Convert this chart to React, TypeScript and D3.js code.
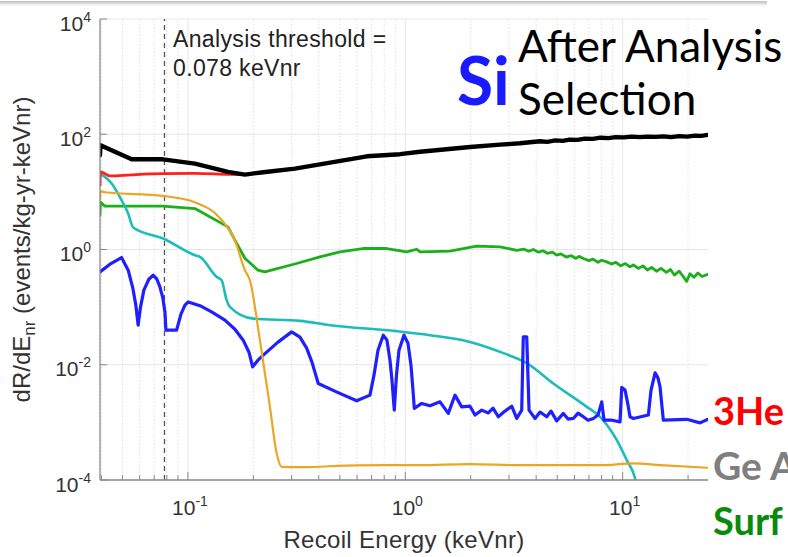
import React from 'react';
import * as d3 from 'd3';

const W = 788;
const H = 557;
const xDomain: [number, number] = [0.0394, 24.7];
const yDomain: [number, number] = [1e-4, 1e4];
const threshold = 0.078;
const yTickExps = [-4, -2, 0, 2, 4];
const xTickExps = [-1, 0, 1];

// total (black)
const totalData: [number, number][] = [
  [0.0394, 43.2], [0.0396, 64.4], [0.0551, 36.8], [0.0767, 36.8], [0.1077, 31.0], [0.1528, 22.2],
  [0.1829, 20.0], [0.2221, 21.9], [0.3106, 25.4], [0.666, 41.5], [0.946, 45.0], [1.17, 49.7],
  [1.985, 60.1], [2.73, 65.8], [3.37, 69.8], [4.17, 75.6], [4.5, 74], [4.9, 78], [5.3, 77], [5.7, 81],
  [6.2, 80], [6.7, 84], [7.3, 83], [7.9, 87], [8.6, 86], [9.3, 89], [10.1, 88], [11.0, 91], [12.0, 89],
  [13.0, 91], [14.2, 90], [15.4, 92], [16.7, 89], [18.2, 93], [19.8, 91], [21.5, 95], [23.0, 94], [24.7, 98],
];

// red
const redData: [number, number][] = [
  [0.0394, 13.0], [0.0396, 22.2], [0.0438, 18.9], [0.055, 19.8], [0.0767, 20.8], [0.1077, 21.0],
  [0.1528, 20.2], [0.1829, 20.0], [0.1928, 20.0],
];

// orange
const orangeData: [number, number][] = [
  [0.0394, 7.67], [0.0396, 10.3], [0.0415, 9.86], [0.0767, 8.51], [0.1077, 6.61], [0.1433, 3.22],
  [0.1645, 1.45], [0.1829, 0.437], [0.1928, 0.293], [0.2144, 0.0267], [0.2384, 1.86e-3],
  [0.2559, 2.93e-4], [0.270, 1.69e-4], [0.3276, 1.67e-4], [0.6, 1.8e-4], [1.17, 1.81e-4],
  [1.985, 1.89e-4], [3.37, 1.81e-4], [7.87, 1.81e-4], [11.2, 1.94e-4], [14.86, 1.81e-4], [24.7, 1.63e-4],
];

// green
const greenData: [number, number][] = [
  [0.0394, 3.94], [0.0396, 6.69], [0.0415, 5.64], [0.0767, 5.64], [0.1077, 5.14], [0.1528, 2.47],
  [0.1645, 1.45], [0.1829, 0.706], [0.210, 0.438], [0.226, 0.409], [0.316, 0.572], [0.405, 0.745],
  [0.501, 0.909], [0.638, 1.04], [0.821, 1.04], [1.015, 0.909], [1.128, 1.01], [1.17, 0.909],
  [1.606, 0.934], [2.13, 1.14], [2.73, 1.11], [3.26, 0.97], [3.5, 1.02], [3.7, 0.93], [3.88, 1.0],
  [4.1, 0.9], [4.3, 0.95], [4.5, 0.86], [4.75, 0.9], [4.97, 0.8], [5.2, 0.84], [5.5, 0.74], [5.8, 0.78],
  [6.1, 0.70], [6.3, 0.76], [6.6, 0.70], [7.0, 0.64], [7.3, 0.68], [7.7, 0.6], [8.0, 0.65], [8.45, 0.61],
  [8.9, 0.56], [9.3, 0.6], [9.8, 0.52], [10.3, 0.57], [10.8, 0.5], [11.2, 0.54], [11.8, 0.47],
  [12.4, 0.52], [13.0, 0.44], [13.6, 0.49], [14.3, 0.42], [15.0, 0.47], [15.9, 0.4], [16.6, 0.45],
  [17.3, 0.36], [18.2, 0.42], [19.0, 0.34], [19.7, 0.28], [20.4, 0.38], [21.3, 0.33], [22.2, 0.39],
  [23.2, 0.34], [24.7, 0.37],
];

// cyan
const cyanData: [number, number][] = [
  [0.0394, 20.8], [0.0446, 13.96], [0.0495, 7.16], [0.0531, 4.21], [0.0560, 2.41], [0.0770, 1.55],
  [0.1077, 0.796], [0.1136, 0.744], [0.1355, 0.335], [0.1429, 0.293], [0.1507, 0.132], [0.156, 0.101],
  [0.1997, 0.0631], [0.3276, 0.0577], [0.450, 0.0486], [0.912, 0.0383], [1.299, 0.0326],
  [1.985, 0.0249], [2.83, 0.0159], [3.62, 0.0107], [4.80, 0.00474], [6.84, 0.00186], [7.87, 0.00125],
  [9.40, 0.000492], [10.45, 0.000221], [11.4, 0.000107], [11.6, 0.00008],
];

// blue
const blueData: [number, number][] = [
  [0.0394, 0.409], [0.0438, 0.556], [0.0495, 0.726], [0.0531, 0.438], [0.0558, 0.213], [0.0576, 0.108],
  [0.0590, 0.0486], [0.0604, 0.0959], [0.0627, 0.197], [0.0661, 0.305], [0.0692, 0.358], [0.0720, 0.305],
  [0.0743, 0.225], [0.0767, 0.143], [0.0784, 0.0817], [0.0792, 0.0398], [0.0887, 0.0398], [0.0929, 0.0754],
  [0.0969, 0.108], [0.1003, 0.123], [0.1136, 0.106], [0.1285, 0.0827], [0.1480, 0.0594], [0.1645, 0.0414],
  [0.1796, 0.0267], [0.1909, 0.0165], [0.1985, 0.00919], [0.2100, 0.0120], [0.2221, 0.0147],
  [0.2596, 0.0247], [0.3000, 0.0372], [0.3276, 0.0301], [0.3517, 0.0194], [0.3721, 0.0111],
  [0.3977, 0.00474], [0.4849, 0.00335], [0.5974, 0.00237], [0.6880, 0.00297], [0.7178, 0.0066],
  [0.7489, 0.0179], [0.7920, 0.0326], [0.8236, 0.0267], [0.8503, 0.0120], [0.8685, 0.0054],
  [0.8901, 0.00163], [0.9110, 0.0066], [0.9354, 0.0179], [0.9863, 0.0326], [1.029, 0.0237],
  [1.062, 0.00984], [1.085, 0.00363], [1.100, 0.00175], [1.190, 0.00213], [1.299, 0.00194],
  [1.445, 0.00227], [1.577, 0.00143], [1.693, 0.00297], [1.818, 0.00186], [1.985, 0.00191],
  [2.093, 0.00134], [2.247, 0.00163], [2.410, 0.00146], [2.533, 0.00177], [2.679, 0.00125],
  [2.876, 0.00157], [3.088, 0.00191], [3.256, 0.00117], [3.433, 0.00163], [3.491, 0.0305],
  [3.620, 0.0305], [3.710, 0.00163], [3.954, 0.00117], [4.169, 0.00151], [4.474, 0.00125],
  [4.683, 0.00157], [4.974, 0.00106], [5.336, 0.00143], [5.608, 0.00114], [5.932, 0.00117],
  [6.235, 0.00145], [6.594, 0.00125], [6.930, 0.00109], [7.331, 0.00117], [7.705, 0.00134],
  [8.013, 0.00227], [8.211, 0.00109], [8.939, 0.00109], [9.727, 0.00102], [9.906, 0.00404],
  [10.26, 0.00363], [10.59, 0.00199], [10.81, 0.00125], [11.20, 0.00117], [13.13, 0.00134],
  [13.51, 0.00363], [14.10, 0.00724], [14.55, 0.00586], [14.86, 0.00414], [15.39, 0.00109],
  [19.72, 0.00113], [22.71, 0.00098], [24.7, 0.00113],
];

const HEL = '"Liberation Sans", Arial, Helvetica, sans-serif';
const CAL = 'Lato, "Open Sans", sans-serif';

export default function App() {
  const x = d3.scaleLog().domain(xDomain).range([100, 708]);
  const y = d3.scaleLog().domain(yDomain).range([480, 19]);
  const [x0, x1] = x.range();
  const [y0, y1] = y.range();

  const mk = (curve: d3.CurveFactory) =>
    d3.line<[number, number]>().x(d => x(d[0])).y(d => y(d[1])).curve(curve);
  const smooth = mk(d3.curveMonotoneX);
  const lin = mk(d3.curveLinear);

  const minors: number[] = [];
  for (let e = -2; e <= 1; e++) {
    for (let k = 2; k <= 9; k++) {
      const v = k * Math.pow(10, e);
      if (v >= xDomain[0] && v <= xDomain[1]) minors.push(v);
    }
  }
  const tc = '#333333';

  return (
    <svg width={W} height={H} style={{ position: 'fixed', left: 0, top: 0, background: '#fff' }}>
      <defs>
        <clipPath id="plot">
          <rect x={x0} y={y1} width={x1 - x0} height={y0 - y1} />
        </clipPath>
        <linearGradient id="topbar" x1="0" y1="0" x2="0" y2="1">
          <stop offset="0" stopColor="#bdbdbd" />
          <stop offset="1" stopColor="#ffffff" />
        </linearGradient>
      </defs>
      <rect x={0} y={0} width={W} height={H} fill="#fff" />
      <rect x={0} y={1} width={767} height={5} fill="url(#topbar)" />

      {/* grid */}
      {minors.map(v => (
        <line key={'mg' + v} x1={x(v)} x2={x(v)} y1={y0} y2={y1} stroke="#d8d8d8" strokeWidth={0.8} strokeDasharray="1.5,2" />
      ))}
      {xTickExps.map(e => (
        <line key={'xg' + e} x1={x(Math.pow(10, e))} x2={x(Math.pow(10, e))} y1={y0} y2={y1} stroke="#e6e6e6" strokeWidth={1} />
      ))}
      {yTickExps.map(e => (
        <line key={'yg' + e} x1={x0} x2={x1} y1={y(Math.pow(10, e))} y2={y(Math.pow(10, e))} stroke="#e6e6e6" strokeWidth={1} />
      ))}

      {/* threshold */}
      <line x1={x(threshold)} x2={x(threshold)} y1={y0} y2={y1} stroke="#555" strokeWidth={1.3} strokeDasharray="5,4" />

      <g clipPath="url(#plot)" fill="none" strokeLinejoin="round" strokeLinecap="round">
        <path d={lin(greenData) || ''} stroke="#1bb01b" strokeWidth={2.8} />
        <path d={smooth(cyanData) || ''} stroke="#1cbcbc" strokeWidth={2.6} />
        <path d={lin(blueData) || ''} stroke="#1f1fff" strokeWidth={3.2} />
        <path d={smooth(orangeData) || ''} stroke="#eda522" strokeWidth={2.2} />
        <path d={smooth(redData) || ''} stroke="#ff1f1f" strokeWidth={2.8} />
        <path d={lin(totalData) || ''} stroke="#000" strokeWidth={4.3} />
      </g>

      {/* axes */}
      <line x1={x0} x2={x0} y1={y0} y2={y1} stroke="#8a8a8a" strokeWidth={1.3} />
      <line x1={x0} x2={x1} y1={y0} y2={y0} stroke="#8a8a8a" strokeWidth={1.3} />
      {minors.map(v => (
        <line key={'mt' + v} x1={x(v)} x2={x(v)} y1={y0} y2={y0 - 5} stroke="#8a8a8a" strokeWidth={1} />
      ))}
      {xTickExps.map(e => (
        <line key={'xt' + e} x1={x(Math.pow(10, e))} x2={x(Math.pow(10, e))} y1={y0} y2={y0 - 8} stroke="#8a8a8a" strokeWidth={1} />
      ))}
      {yTickExps.map(e => (
        <line key={'yt' + e} x1={x0} x2={x0 + 7} y1={y(Math.pow(10, e))} y2={y(Math.pow(10, e))} stroke="#8a8a8a" strokeWidth={1} />
      ))}

      {/* tick labels */}
      {yTickExps.map(e => (
        <text key={'yl' + e} x={91} y={y(Math.pow(10, e)) + 11.5} textAnchor="end" fontFamily={HEL} fontSize={21} fill={tc}>
          10<tspan fontSize={14} dy={-9}>{String(e)}</tspan>
        </text>
      ))}
      {xTickExps.map(e => (
        <text key={'xl' + e} x={x(Math.pow(10, e)) + 2} y={515} textAnchor="middle" fontFamily={HEL} fontSize={21} fill={tc}>
          10<tspan fontSize={14} dy={-9}>{String(e)}</tspan>
        </text>
      ))}

      {/* axis labels */}
      <text x={(x0 + x1) / 2} y={548} textAnchor="middle" fontFamily={HEL} fontSize={24} letterSpacing={0.3} fill={tc}>
        Recoil Energy (keVnr)
      </text>
      <text transform={`translate(30,${(y0 + y1) / 2}) rotate(-90)`} textAnchor="middle" fontFamily={HEL} fontSize={24} fill={tc}>
        dR/dE<tspan fontSize={17} dy={5}>nr</tspan><tspan dy={-5}> (events/kg-yr-keVnr)</tspan>
      </text>

      {/* threshold annotation */}
      <text x={173} y={46.7} fontFamily={HEL} fontSize={23} letterSpacing={0.35} fill="#222">Analysis threshold =</text>
      <text x={173} y={76} fontFamily={HEL} fontSize={23} letterSpacing={0.35} fill="#222">0.078 keVnr</text>

      {/* slide text */}
      <text x={457} y={105} fontFamily={CAL} fontWeight="bold" fontSize={66} fill="#1a1aff">Si</text>
      <text x={518} y={61.7} fontFamily={CAL} fontSize={44} fill="#000">After Analysis</text>
      <text x={518} y={115} fontFamily={CAL} fontSize={44} fill="#000">Selection</text>

      <text x={713} y={425} fontFamily={CAL} fontWeight="bold" fontSize={38} fill="#ff0000">3He</text>
      <text x={713} y={480} fontFamily={CAL} fontWeight="bold" fontSize={39} fill="#7f7f7f">Ge A</text>
      <text x={713} y={535} fontFamily={CAL} fontWeight="bold" fontSize={38} fill="#0a8a0a">Surf</text>
    </svg>
  );
}
